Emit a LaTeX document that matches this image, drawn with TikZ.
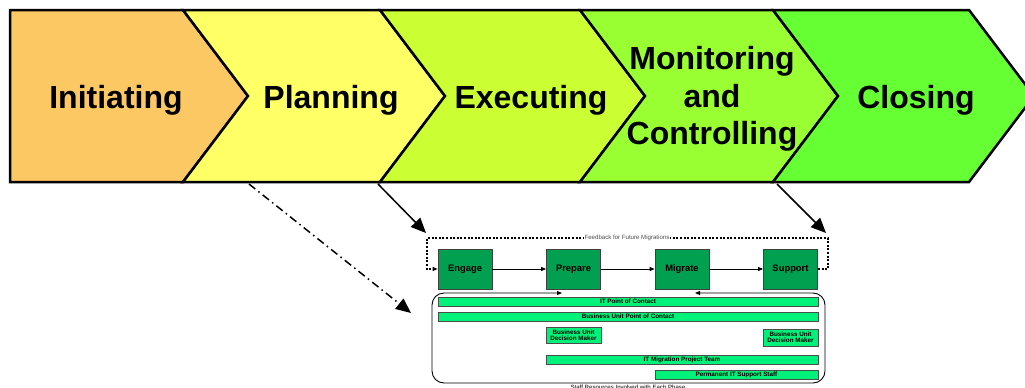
\documentclass[tikz,border=0pt]{standalone}
\usepackage{fontspec}
\setmainfont{Liberation Sans}
\usetikzlibrary{arrows.meta}
\definecolor{cInit}{HTML}{FCC864}
\definecolor{cPlan}{HTML}{FFFF66}
\definecolor{cExec}{HTML}{CCFF33}
\definecolor{cMon}{HTML}{99FF33}
\definecolor{cClose}{HTML}{66FF33}
\definecolor{stageGreen}{HTML}{00A050}
\definecolor{barGreen}{HTML}{00F27A}
\begin{document}
\begin{tikzpicture}[x=1pt,y=-1pt,
  phase/.style={draw=black, line width=2.5pt, line join=miter},
  phaselabel/.style={font=\bfseries\fontsize{32}{37.5}\selectfont, inner sep=0, align=center},
  stagebox/.style={draw=black!75, fill=stageGreen, line width=0.8pt, minimum width=54, minimum height=40, inner sep=0, font=\bfseries\fontsize{9.4}{11}\selectfont},
  bar/.style={draw=black!70, fill=barGreen, line width=0.8pt, inner sep=0, font=\bfseries\fontsize{6.3}{7}\selectfont, align=center},
  bigarrow/.style={line width=1.5pt, -{Triangle[length=15pt, width=13pt]}},
  smallarrow/.style={line width=0.8pt, -{Triangle[length=5pt, width=4pt]}},
  feedback/.style={line width=1.2pt, dash pattern=on 2pt off 1.6pt},
  smalltext/.style={font=\fontsize{6.1}{7}\selectfont, inner sep=1pt}]
\useasboundingbox (0,0) rectangle (1025,388);

% phase chevrons
\draw[phase, fill=cInit] (10,10) -- (183,10) -- (248,96) -- (183,182) -- (10,182) -- cycle;
\draw[phase, fill=cPlan] (183,10) -- (380,10) -- (445,96) -- (380,182) -- (183,182) -- (248,96) -- cycle;
\draw[phase, fill=cExec] (380,10) -- (580,10) -- (645,96) -- (580,182) -- (380,182) -- (445,96) -- cycle;
\draw[phase, fill=cMon] (580,10) -- (773,10) -- (838,96) -- (773,182) -- (580,182) -- (645,96) -- cycle;
\draw[phase, fill=cClose] (773,10) -- (969,10) -- (1034,96) -- (969,182) -- (773,182) -- (838,96) -- cycle;

\node[phaselabel, anchor=base] (init) at (116,108) {Initiating};
\node[phaselabel, anchor=base] (plan) at (331,108) {Planning};
\node[phaselabel, anchor=base] (exec) at (531,108) {Executing};
\node[phaselabel] (mon) at (712,99) {Monitoring\\and\\Controlling};
\node[phaselabel, anchor=base] (close) at (916,108) {Closing};

% migration stages
\node[stagebox] (engage)  at (465,269)   {Engage};
\node[stagebox] (prepare) at (573.5,269) {Prepare};
\node[stagebox] (migrate) at (682,269)   {Migrate};
\node[stagebox] (support) at (790.5,269) {Support};

\draw[smallarrow] (engage) -- (prepare);
\draw[smallarrow] (prepare) -- (migrate);
\draw[smallarrow] (migrate) -- (support);

% feedback loop
\coordinate (fbR) at (828,238);
\coordinate (fbL) at (427,238);
\draw[feedback, -{Triangle[length=5pt, width=4pt]}] (support.east) -| (fbR) -- (fbL) |- (engage.west);
\node[smalltext, fill=white, text=black!70] (fbtext) at (627,238) {Feedback for Future Migrations};

% staff resources frame
\coordinate (frA) at (562,293);
\coordinate (frB) at (695,293);
\draw[line width=0.9pt, rounded corners=12, {Triangle[length=5pt, width=4pt]}-{Triangle[length=5pt, width=4pt]}]
  (frA) -- (432,293) -- (432,383) -- (825,383) -- (825,293) -- (frB);

\node[bar, minimum width=380, minimum height=9] (itpoc) at (628,301.5) {IT Point of Contact};
\node[bar, minimum width=380, minimum height=9] (bupoc) at (628,316.5) {Business Unit Point of Contact};
\node[bar, minimum width=55, minimum height=16] (budm1) at (573.5,335) {Business Unit\\[-1pt]Decision Maker};
\node[bar, minimum width=55, minimum height=17] (budm2) at (790.5,337.5) {Business Unit\\[-1pt]Decision Maker};
\node[bar, minimum width=272, minimum height=9] (itmpt) at (682,360) {IT Migration Project Team};
\node[bar, minimum width=163, minimum height=9] (itss) at (736.5,375) {Permanent IT Support Staff};

\node[smalltext, anchor=base] (caption) at (628,389.5) {Staff Resources Involved with Each Phase};

% phase-to-stage links
\coordinate (planA) at (249,184);
\coordinate (planB) at (378,184);
\coordinate (monB) at (777,184);
\coordinate (toFrame) at (411,313);
\coordinate (toLoopL) at (426,233);
\coordinate (toLoopR) at (826,233);
\draw[bigarrow, dash pattern=on 8pt off 4pt on 1.5pt off 4pt] (planA) -- (toFrame);
\draw[bigarrow] (planB) -- (toLoopL);
\draw[bigarrow] (monB) -- (toLoopR);
\end{tikzpicture}
\end{document}
